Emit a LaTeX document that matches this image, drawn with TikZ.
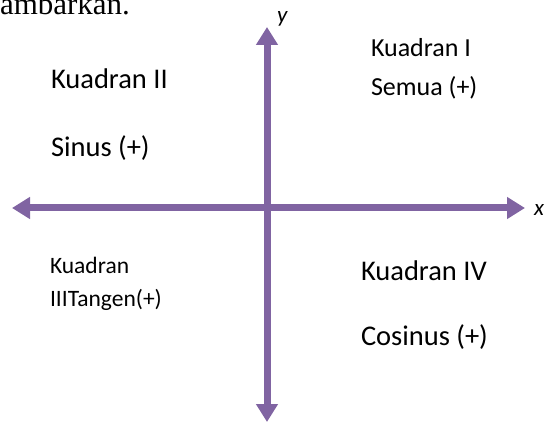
\documentclass[tikz,border=0pt]{standalone}
\usepackage{fontspec}
\setmainfont{Carlito}
\newfontfamily\serifont{Liberation Serif}
\usetikzlibrary{arrows.meta}
\definecolor{axiscol}{RGB}{128,100,162}
\begin{document}
\begin{tikzpicture}[x=1pt,y=-1pt,
  axis/.style={draw=axiscol,fill=axiscol,line width=7pt,
    {Triangle[length=18pt,width=21pt]}-{Triangle[length=18pt,width=21pt]}},
  lbl/.style={anchor=base west,inner sep=0pt,outer sep=0pt},
  big/.style={lbl,font=\fontsize{28.5}{34}\selectfont},
  mid/.style={lbl,font=\fontsize{26}{31}\selectfont},
  small/.style={lbl,font=\fontsize{23.5}{28}\selectfont},
  axlbl/.style={lbl,font=\fontsize{23}{27}\selectfont\itshape}]
\useasboundingbox (0,0) rectangle (547,425);
\coordinate (L) at (12,208);
\coordinate (R) at (525,208);
\coordinate (T) at (267,27);
\coordinate (B) at (267,422);
\draw[axis] (L) -- (R);
\draw[axis] (B) -- (T);
\node[lbl,font=\serifont\fontsize{31}{36}\selectfont] (top) at (0,15) {ambarkan.};
\node[axlbl] (ylab) at (277,23) {y};
\node[axlbl] (xlab) at (534,216) {x};
\node[big] (k2) at (51,89) {Kuadran II};
\node[big] (s2) at (51,157) {Sinus (+)};
\node[mid] (k1) at (371,57) {Kuadran I};
\node[mid] (s1) at (371,96) {Semua (+)};
\node[small] (k3) at (50,273) {Kuadran};
\node[small] (t3) at (50,306) {IIITangen(+)};
\node[big] (k4) at (361,280) {Kuadran IV};
\node[big] (c4) at (361,345) {Cosinus (+)};
\end{tikzpicture}
\end{document}
